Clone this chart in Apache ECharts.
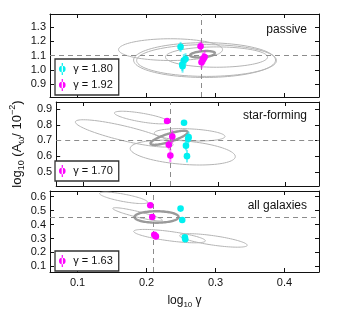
<!DOCTYPE html>
<html><head><meta charset="utf-8">
<script src="https://cdn.jsdelivr.net/npm/echarts@6/dist/echarts.min.js"></script>
<style>html,body{margin:0;padding:0;background:#fff}#c{width:341px;height:310px}</style>
</head><body><div id="c"></div>
<script>
// ---------- data ----------
const xTicks = [0.1, 0.2, 0.3, 0.4];
const yTicksPassive = [0.9, 1.0, 1.1, 1.2, 1.3];
const yTicksStar = [0.5, 0.6, 0.7, 0.8, 0.9];
const yTicksAll = [0.1, 0.2, 0.3, 0.4, 0.5, 0.6];

const panelNames = ['passive', 'star-forming', 'all galaxies'];

// points: [log10 gamma, log10 A, error]
const passiveCyan = [[0.2493,1.160,0.035],[0.2565,1.076,0.04],[0.2540,1.065,0.045],[0.2517,1.037,0.045],[0.2522,1.025,0.045]];
const passiveMagenta = [[0.2783,1.164,0.035],[0.2841,1.090,0.045],[0.2816,1.072,0.045],[0.2797,1.053,0.045],[0.2826,1.078,0.04]];
const starCyan = [[0.2497,0.813,0.015],[0.2565,0.721,0.035],[0.2558,0.711,0.03],[0.2526,0.667,0.03],[0.2541,0.600,0.04]];
const starMagenta = [[0.2246,0.824,0.012],[0.2323,0.725,0.042],[0.2271,0.673,0.03],[0.2294,0.604,0.042]];
const allCyan = [[0.2493,0.514,0.01],[0.2517,0.432,0.012],[0.2555,0.308,0.015],[0.2561,0.295,0.012]];
const allMagenta = [[0.2054,0.538,0.01],[0.2083,0.454,0.012],[0.2112,0.326,0.02],[0.2135,0.315,0.022]];

// legend labels
const passiveLabels = ['γ = 1.80', 'γ = 1.92'];
const starLabels = ['γ = 1.70'];
const allLabels = ['γ = 1.63'];

// reference lines [log10 gamma, log10 A]
const passiveRef = [0.2833, 1.101];
const starRef = [0.2304, 0.700];
const allRef = [0.2122, 0.454];

// ellipses: [cx, cy, half-width (x), half-height (y), shear dy/dx]
const passiveEllipses = [[0.2348,1.141,0.0754,0.076,0],[0.2841,1.068,0.1029,0.1215,0],[0.2870,1.065,0.1014,0.111,0],[0.3014,1.089,0.074,0.071,0]];
const passiveBest = [[0.2812,1.109,0.018,0.021,0.4]];
const starEllipses = [[0.1870,0.846,0.0406,0.028,-0.71],[0.1609,0.745,0.0725,0.048,-1.0],[0.2580,0.736,0.0525,0.038,-0.2],[0.2478,0.623,0.078,0.075,-0.33]];
const starBest = [[0.2275,0.717,0.0275,0.027,1.3]];
const allEllipses = [[0.1667,0.591,0.0348,0.027,-0.89],[0.1870,0.473,0.0360,0.021,-1.18],[0.2333,0.317,0.052,0.034,-0.65],[0.2970,0.286,0.049,0.034,-0.70]];
const allBest = [[0.2145,0.454,0.032,0.041,0]];

// ---------- chart ----------
const CYAN = '#00f0f0', MAG = '#ff00ff';
const chart = echarts.init(document.getElementById('c'));
const grids = [
  {left:50, right:22, top:14, height:83},
  {left:50, right:22, top:102, height:84},
  {left:50, right:22, top:191, height:85}
];
const yRanges = [[0.81,1.39],[0.41,0.945],[0.06,0.64]];
const yTickSets = [yTicksPassive, yTicksStar, yTicksAll];
const FONT = '"Liberation Sans", Arial, sans-serif';

const xAxes = [], yAxes = [];
for (let i = 0; i < 3; i++) {
  ['bottom','top'].forEach((pos) => {
    const ax = {
      type:'value', gridIndex:i, position:pos, min:0.06, max:0.45,
      splitLine:{show:false},
      axisLine:{show:true, onZero:false, lineStyle:{color:'#111', width:1}},
      axisTick:{show:true, inside:true, length:4, customValues:xTicks, lineStyle:{color:'#111'}},
      axisLabel:{show: pos==='bottom' && i===2, customValues:xTicks, formatter:v=>v.toFixed(1), fontSize:11, color:'#111', fontFamily:FONT, margin:5}
    };
    if (pos==='bottom' && i===2) {
      ax.name = 'log{s|10} γ';
      ax.nameLocation = 'middle';
      ax.nameGap = 21;
      ax.nameTextStyle = {fontSize:12, color:'#111', fontFamily:FONT, lineHeight:16,
        rich:{s:{fontSize:8, verticalAlign:'bottom', fontFamily:FONT, color:'#111', lineHeight:16}}};
    }
    xAxes.push(ax);
  });
  ['left','right'].forEach((pos) => {
    const ax = {
      type:'value', gridIndex:i, position:pos, min:yRanges[i][0], max:yRanges[i][1],
      splitLine:{show:false},
      axisLine:{show:true, onZero:false, lineStyle:{color:'#111', width:1}},
      axisTick:{show:true, inside:true, length:4, customValues:yTickSets[i], lineStyle:{color:'#111'}},
      axisLabel:{show: pos==='left', customValues:yTickSets[i], formatter:v=>v.toFixed(1), fontSize:11, color:'#111', fontFamily:FONT, margin:4}
    };
    if (pos==='left' && i===1) {
      ax.name = 'log{s|10} (A{s|ω}/ 10{p|−2})';
      ax.nameLocation = 'middle';
      ax.nameRotate = 90;
      ax.nameGap = 28;
      ax.nameTextStyle = {fontSize:13, color:'#111', fontFamily:FONT, lineHeight:18,
        rich:{s:{fontSize:9, verticalAlign:'bottom', fontFamily:FONT, color:'#111', lineHeight:18},
              p:{fontSize:9, verticalAlign:'top', fontFamily:FONT, color:'#111', lineHeight:18}}};
    }
    yAxes.push(ax);
  });
}

function ellipseRender(color, width) {
  return function (params, api) {
    const cx = api.value(0), cy = api.value(1), a = api.value(2), b = api.value(3), k = api.value(4);
    const pts = [];
    for (let j = 0; j <= 96; j++) {
      const t = j / 96 * 2 * Math.PI;
      const dx = a * Math.cos(t);
      pts.push(api.coord([cx + dx, cy + k * dx + b * Math.sin(t)]));
    }
    return {type:'polyline', shape:{points:pts}, style:{stroke:color, fill:null, lineWidth:width}};
  };
}
function pointRender(color, barColor) {
  return function (params, api) {
    const x = api.value(0), y = api.value(1), e = api.value(2);
    const p = api.coord([x, y]);
    const p1 = api.coord([x, y - e]), p2 = api.coord([x, y + e]);
    return {type:'group', children:[
      {type:'line', shape:{x1:p1[0], y1:p1[1], x2:p2[0], y2:p2[1]}, style:{stroke:barColor, lineWidth:2}},
      {type:'circle', shape:{cx:p[0], cy:p[1], r:3.3}, style:{fill:color}}
    ]};
  };
}

const series = [];
const panels = [
  {ell:passiveEllipses, best:passiveBest, ref:passiveRef, cyan:passiveCyan, mag:passiveMagenta, cyanName:passiveLabels[0], magName:passiveLabels[1]},
  {ell:starEllipses, best:starBest, ref:starRef, cyan:starCyan, mag:starMagenta, cyanName:'star cyan', magName:starLabels[0]},
  {ell:allEllipses, best:allBest, ref:allRef, cyan:allCyan, mag:allMagenta, cyanName:'all cyan', magName:allLabels[0]}
];
panels.forEach((p, i) => {
  const xi = i * 2, yi = i * 2;
  series.push({type:'custom', xAxisIndex:xi, yAxisIndex:yi, data:p.ell, encode:{x:0, y:1}, renderItem:ellipseRender('#b4b4b4', 1), silent:true, clip:true, z:1});
  series.push({type:'custom', xAxisIndex:xi, yAxisIndex:yi, data:p.best, encode:{x:0, y:1}, renderItem:ellipseRender('#9a9a9a', 2.4), silent:true, clip:true, z:2});
  series.push({type:'line', xAxisIndex:xi, yAxisIndex:yi, data:[], silent:true, z:3,
    markLine:{silent:true, symbol:'none', animation:false, label:{show:false},
      lineStyle:{type:[5,4], color:'#8c8c8c', width:1},
      data:[{xAxis:p.ref[0]}, {yAxis:p.ref[1]}]}});
  series.push({type:'custom', name:p.cyanName, xAxisIndex:xi, yAxisIndex:yi, data:p.cyan, encode:{x:0, y:1}, itemStyle:{color:CYAN}, renderItem:pointRender(CYAN, 'rgba(0,230,240,0.55)'), z:5});
  series.push({type:'custom', name:p.magName, xAxisIndex:xi, yAxisIndex:yi, data:p.mag, encode:{x:0, y:1}, itemStyle:{color:MAG}, renderItem:pointRender(MAG, 'rgba(255,0,255,0.5)'), z:6});
});

const icon = 'path://M3.4,0h1.2v12h-1.2z M4,2.7a3.3,3.3 0 1,0 0.001,0z';
function legendAt(top, names) {
  return {data:names, left:55, top:top, orient:'vertical', selectedMode:false,
    padding:[4,6,4,4], itemWidth:8, itemHeight:12, itemGap:4,
    borderColor:'#333', borderWidth:1.3, backgroundColor:'#fff', icon:icon,
    textStyle:{fontSize:11, color:'#111', fontFamily:FONT, padding:[0,0,0,2]}};
}

const tTops = [24, 110, 200];
chart.setOption({
  animation:false,
  textStyle:{fontFamily:FONT},
  grid:grids,
  xAxis:xAxes,
  yAxis:yAxes,
  title: panelNames.map((n, i) => ({text:n, right:34, top:tTops[i], padding:0,
    textStyle:{fontSize:12, fontWeight:'normal', color:'#111', fontFamily:FONT}})),
  legend:[legendAt(59, passiveLabels), legendAt(161, starLabels), legendAt(251, allLabels)],
  series:series
});
</script></body></html>
